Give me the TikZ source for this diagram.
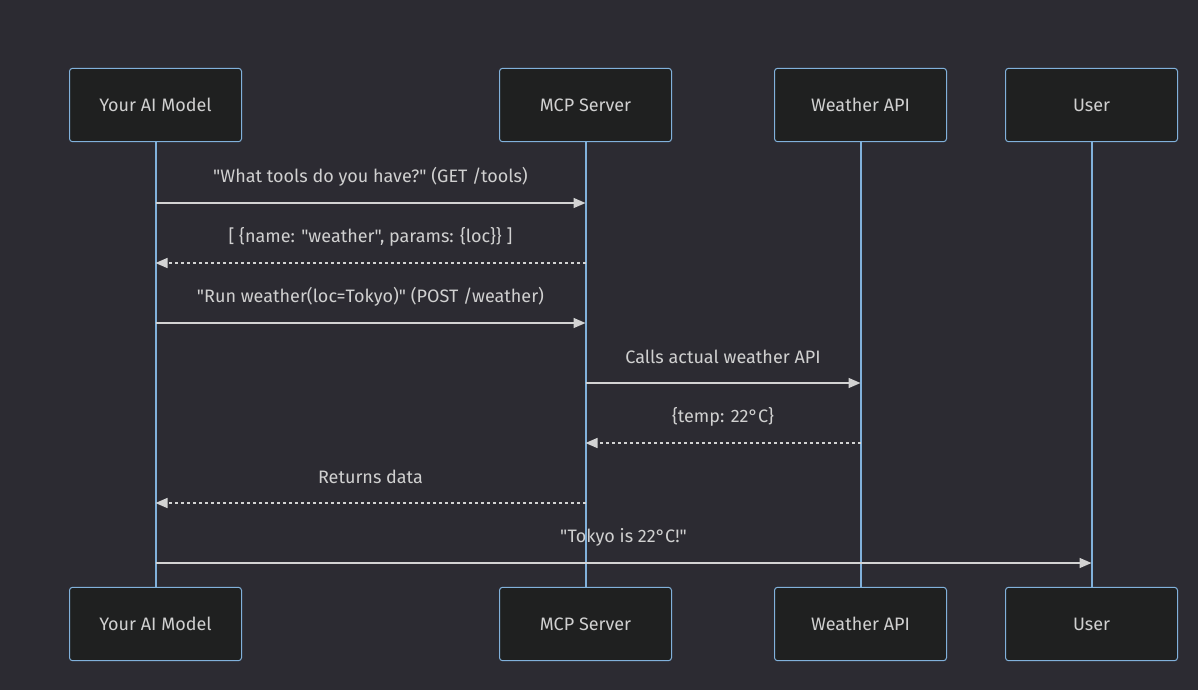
\documentclass[tikz,border=0pt]{standalone}
\usepackage{fontspec}
\newfontfamily\seqfont{Fira Sans}
\usetikzlibrary{arrows.meta}
\definecolor{bgcol}{HTML}{2C2B32}
\definecolor{boxfill}{HTML}{1F2020}
\definecolor{bordercol}{HTML}{81B1DB}
\definecolor{msgcol}{HTML}{D3D3D3}
\definecolor{txtcol}{HTML}{D0D0D0}
\tikzset{
  actor/.style={draw=bordercol, fill=boxfill, rounded corners=2.25pt, line width=0.75pt,
    minimum width=129pt, minimum height=55pt, text=txtcol},
  life/.style={draw=bordercol, line width=1.5pt},
  msg/.style={draw=msgcol, line width=1.1pt, -{Triangle[length=9pt,width=7.5pt]}},
  reply/.style={msg, dash pattern=on 2.25pt off 2.25pt},
  lbl/.style={midway, yshift=19.5pt, text=txtcol}
}
\begin{document}
\begin{tikzpicture}[x=0.75pt, y=-0.75pt, font=\seqfont\fontsize{13.5}{16}\selectfont]
\fill[bgcol] (0,0) rectangle (1198,690);
\foreach \n/\x/\t in {ai/155.5/Your AI Model, mcp/585.5/MCP Server, api/860.5/Weather API, usr/1091.5/User}
  {\draw[life] (\x,105) -- (\x,624);
   \node[actor] (top\n) at (\x,105) {\t};
   \node[actor] (bot\n) at (\x,624) {\t};};
% calls and replies
\draw[msg] (topai |- 0,203) -- (topmcp |- 0,203) node[lbl] {"What tools do you have?" (GET /tools)};
\draw[reply] (topmcp |- 0,263) -- (topai |- 0,263) node[lbl] {[ \{name: "weather", params: \{loc\}\} ]};
\draw[msg] (topai |- 0,323) -- (topmcp |- 0,323) node[lbl] {"Run weather(loc=Tokyo)" (POST /weather)};
\draw[msg] (topmcp |- 0,383) -- (topapi |- 0,383) node[lbl] {Calls actual weather API};
\draw[reply] (topapi |- 0,443) -- (topmcp |- 0,443) node[lbl] {\{temp: 22°C\}};
\draw[reply] (topmcp |- 0,503) -- (topai |- 0,503) node[lbl] {Returns data};
\draw[msg] (topai |- 0,563) -- (topusr |- 0,563) node[lbl] {"Tokyo is 22°C!"};
\end{tikzpicture}
\end{document}
